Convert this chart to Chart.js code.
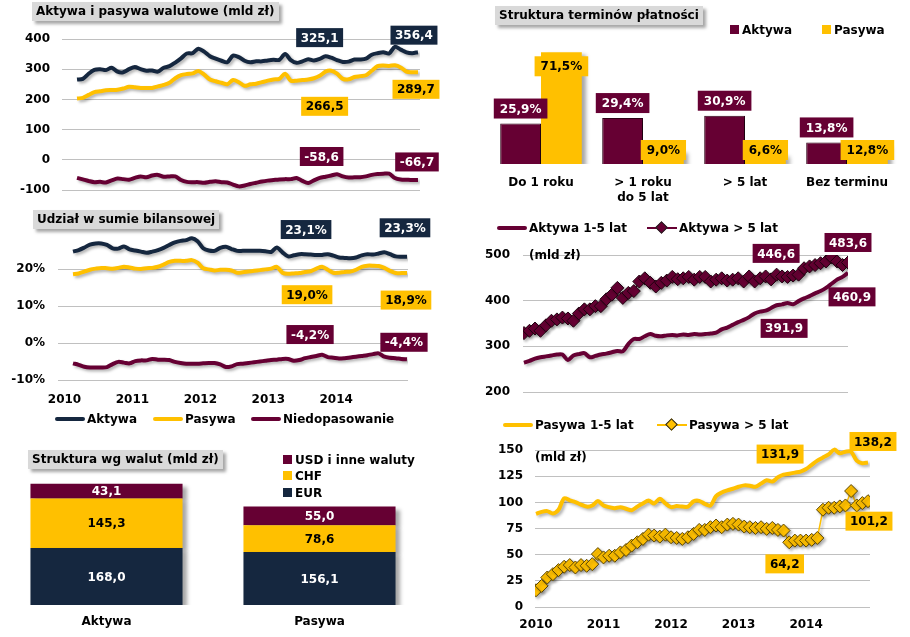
<!DOCTYPE html>
<html>
<head>
<meta charset="utf-8">
<script src="https://cdn.jsdelivr.net/npm/chart.js@4.4.1/dist/chart.umd.min.js"></script>
<style>
body { margin: 0; background: #fff; }
#wrap { position: relative; width: 910px; height: 637px; overflow: hidden; font-family: "DejaVu Sans", Verdana, sans-serif; font-weight: bold; color: #000; }
canvas { position: absolute; left: 0; top: 0; }
.title { position: absolute; background: #d9d9d9; box-shadow: 3px 3px 3px rgba(0,0,0,0.35); font-size: 12px; line-height: 19px; padding: 0 4px; white-space: pre; z-index: 5; }
.lg { position: absolute; font-size: 12px; line-height: 16px; white-space: pre; z-index: 5; }
.ln { display: inline-block; width: 30px; height: 4px; border-radius: 2px; vertical-align: middle; margin: 0 2px 2px 0; position: relative; }
.ln.thin { height: 2px; border-radius: 0; }
.dm { position: absolute; left: 10px; top: -4px; width: 9px; height: 9px; transform: rotate(45deg); border: 1px solid #222; box-sizing: border-box; }
.sq { display: inline-block; width: 9px; height: 9px; margin: 0 3px 2px 0; vertical-align: middle; }
</style>
</head>
<body>
<div id="wrap">
  <canvas id="c1" width="910" height="637"></canvas>
  <canvas id="c2" width="910" height="637"></canvas>
  <canvas id="c3" width="910" height="637"></canvas>
  <canvas id="c4" width="910" height="637"></canvas>
  <canvas id="c5" width="910" height="637"></canvas>
  <canvas id="c6" width="910" height="637"></canvas>

  <div class="title" style="left:32px;top:2px">Aktywa i pasywa walutowe (mld zł)</div>
  <div class="title" style="left:33px;top:210px">Udział w sumie bilansowej</div>
  <div class="title" style="left:28px;top:450px">Struktura wg walut (mld zł)</div>
  <div class="title" style="left:495px;top:6px">Struktura terminów płatności</div>

  <div class="lg" style="left:55px;top:411px"><i class="ln" style="background:#15273f"></i>Aktywa</div>
  <div class="lg" style="left:153px;top:411px"><i class="ln" style="background:#ffc000"></i>Pasywa</div>
  <div class="lg" style="left:251px;top:411px"><i class="ln" style="background:#660033"></i>Niedopasowanie</div>

  <div class="lg" style="left:283px;top:452px"><i class="sq" style="background:#660033"></i>USD i inne waluty</div>
  <div class="lg" style="left:283px;top:468px"><i class="sq" style="background:#ffc000"></i>CHF</div>
  <div class="lg" style="left:283px;top:485px"><i class="sq" style="background:#15273f"></i>EUR</div>

  <div class="lg" style="left:730px;top:22px"><i class="sq" style="background:#660033"></i>Aktywa</div>
  <div class="lg" style="left:822px;top:22px"><i class="sq" style="background:#ffc000"></i>Pasywa</div>

  <div class="lg" style="left:497px;top:220px"><i class="ln" style="background:#660033"></i>Aktywa 1-5 lat</div>
  <div class="lg" style="left:647px;top:220px"><i class="ln thin" style="background:#660033"><b class="dm" style="background:#660033"></b></i>Aktywa &gt; 5 lat</div>
  <div class="lg" style="left:529px;top:247px">(mld zł)</div>

  <div class="lg" style="left:503px;top:417px"><i class="ln" style="background:#ffc000"></i>Pasywa 1-5 lat</div>
  <div class="lg" style="left:657px;top:417px"><i class="ln thin" style="background:#ffc000"><b class="dm" style="background:#ffc000"></b></i>Pasywa &gt; 5 lat</div>
  <div class="lg" style="left:535px;top:449px">(mld zł)</div>
</div>

<script>
// monthly data, Jan 2010 - Dec 2014 (60 points)
const yearTicks = ['2010', '2011', '2012', '2013', '2014'];

const aktywaWal = [266,268,285,298,300,297,305,292,290,300, 307,300,295,296,292,305,310,322,336,352,
  353,368,358,343,335,328,323,345,340,328, 323,326,326,329,331,331,350,330,321,326,
  333,329,334,343,338,330,324,325.1,332,332, 335,348,353,356,352,374,365,356,353,356.4];
const pasywaWal = [203,205,215,224,227,230,231,232,236,242, 240,238,238,238,243,248,255,270,280,284,
  286,294,282,266,260,255,250,264,257,245, 250,252,257,262,266,268,285,262,262,264,
  266,270,278,292,295,285,268,266.5,274,277, 280,295,310,312,311,313,306,292,290,289.7];
const niedopWal = [-60,-65,-70,-74,-73,-75,-68,-62,-64,-66, -60,-55,-58,-52,-50,-56,-55,-55,-67,-73,
  -74,-74,-76,-73,-71,-74,-75,-82,-88,-85, -80,-76,-72,-69,-67,-65,-64,-64,-60,-70,
  -77,-68,-60,-56,-52,-48,-55,-58.6,-58,-58, -55,-50,-47,-46,-46,-60,-65,-66,-67,-66.7];

const udzialAktywa = [24.7,25.1,25.8,26.6,26.9,26.9,26.5,25.6,25.5,26.1, 25.3,25.0,24.7,24.4,24.7,25.1,25.7,26.5,27.2,27.6,
  27.8,28.3,27.5,25.6,25.0,24.9,25.7,26.0,25.4,24.9, 24.9,24.9,24.9,24.9,24.8,24.6,25.8,24.5,23.4,23.7,
  24.0,24.0,23.9,23.8,23.8,24.0,23.6,23.1,23.0,22.9, 23.1,23.7,24.0,23.9,24.2,24.5,24.0,23.4,23.3,23.3];
const udzialPasywa = [18.6,18.8,19.3,19.8,20.1,20.3,20.2,20.1,20.3,20.6, 20.4,20.1,20.0,20.2,20.3,20.6,21.2,21.9,22.2,22.2,
  22.2,22.4,21.7,20.2,19.9,19.6,19.8,19.8,19.6,19.0, 19.1,19.3,19.5,19.7,19.9,20.1,20.6,19.0,18.7,18.8,
  18.9,19.2,19.4,20.1,20.6,19.8,19.0,19.0,19.2,19.3, 19.8,20.6,20.9,20.9,20.8,20.3,19.5,18.9,18.9,18.9];
const udzialNiedop = [-5.5,-5.9,-6.4,-6.6,-6.6,-6.6,-6.5,-5.7,-5.1,-5.3, -5.5,-4.9,-4.7,-4.7,-4.3,-4.5,-4.5,-4.6,-5.1,-5.4,
  -5.6,-5.6,-5.6,-5.5,-5.4,-5.4,-5.8,-6.5,-6.3,-5.7, -5.6,-5.4,-5.2,-5.0,-4.8,-4.6,-4.5,-4.3,-4.3,-4.8,
  -4.6,-4.1,-3.8,-3.5,-3.2,-3.8,-4.0,-4.2,-4.1,-3.9, -3.7,-3.5,-3.3,-3.0,-2.8,-3.7,-4.0,-4.1,-4.3,-4.4];

const walutyCats = ['Aktywa', 'Pasywa'];
const eur = [168.0, 156.1];
const chf = [145.3, 78.6];
const usd = [43.1, 55.0];

const terminCats = ['Do 1 roku', ['> 1 roku', 'do 5 lat'], '> 5 lat', 'Bez terminu'];
const terminAktywa = [25.9, 29.4, 30.9, 13.8];
const terminPasywa = [71.5, 9.0, 6.6, 12.8];

const aktywa15 = [264,268,273,276,278,280,282,282,270,280, 283,285,276,279,282,284,287,290,289,305,
  316,316,322,327,323,322,324,325,324,326, 325,327,326,327,328,330,337,341,347,353,
  358,364,372,376,378,384,390,391.9,395,392, 399,405,410,416,421,428,437,446,452,460.9];
const aktywa5 = [329,334,339,334,346,356,359,363,361,356, 372,381,381,388,388,403,413,428,406,417,
  421,442,449,439,431,439,444,452,447,449, 452,446,452,452,442,446,449,444,446,449,
  442,453,442,449,453,446.6,457,453,452,455, 457,471,475,478,482,486,495,486,478,483.6];

const pasywa15 = [89.1,91.0,91.7,89.5,93,104,102,100.3,98,96, 97,101.3,97,95.5,94.5,95.5,94,92.5,96,99,
  101.8,99,103.5,99,95.5,96.5,96,96,101,101.5, 98.7,97,106,109.5,111.5,113.1,115,116.3,116,115,
  118,121.2,120,124,126.5,127.5,128.5,129.5,131.9,136, 140,143,146,150.5,147,148.5,148.5,140,137.5,138.2];
const pasywa5 = [16.0,20.2,28.2,31.4,35.3,38.5,40.1,37.8,40.1,39.4, 41,50.6,47.4,49,49,52.2,54.5,58.7,61.9,65.1,
  69.2,68.3,67.3,69.2,66.7,66,65.1,66.7,69.9,73.7, 73.7,76.3,77.9,76.3,78.8,79.5,78.8,76.9,76.3,75.6,
  76.3,74.7,75.6,73.7,73.1,61.9,63.5,63.5,63.5,64.2, 66,93,94.9,94.9,96.2,97.1,110.9,97.1,99.4,101.2];

const NAVY = '#15273f', YELLOW = '#ffc000', MAROON = '#660033', GRID = '#c0c0c0';
const FONT = '"DejaVu Sans", Verdana, sans-serif';

Chart.defaults.font.family = FONT;
Chart.defaults.font.weight = 'bold';
Chart.defaults.font.size = 12;
Chart.defaults.color = '#000';
Chart.defaults.animation = false;
Chart.defaults.events = [];
Chart.defaults.responsive = false;
Chart.defaults.plugins.legend.display = false;
Chart.defaults.plugins.tooltip.enabled = false;

const fmt = v => v.toFixed(1).replace('.', ',');

function series(label, values, color) {
  return { label, data: values.map((v, i) => ({ x: i, y: v })), borderColor: color, backgroundColor: color,
    borderWidth: 4, pointRadius: 0, tension: 0.3, boxText: color === YELLOW ? '#000' : '#fff' };
}
function diamonds(label, values, color, edge) {
  return { label, data: values.map((v, i) => ({ x: i, y: v })), borderColor: color, backgroundColor: color,
    borderWidth: 1.5, tension: 0, pointStyle: 'rectRot', pointRadius: 6.5,
    pointBackgroundColor: color, pointBorderColor: edge, pointBorderWidth: 1,
    boxText: color === YELLOW ? '#000' : '#fff' };
}

// drop shadow under the marks, like the Excel original
const shadow = {
  id: 'shadow',
  beforeDatasetsDraw(chart, args, opts) {
    const ctx = chart.ctx;
    ctx.save();
    ctx.shadowColor = opts.color || 'rgba(0,0,0,0.3)';
    ctx.shadowBlur = opts.blur ?? 3;
    ctx.shadowOffsetX = opts.x ?? 2;
    ctx.shadowOffsetY = opts.y ?? 2;
  },
  afterDatasetsDraw(chart) { chart.ctx.restore(); }
};

// boxed value labels tied to a data point (offset in px)
const valueBoxes = {
  id: 'valueBoxes',
  afterDraw(chart, args, opts) {
    const ctx = chart.ctx;
    (opts.items || []).forEach(it => {
      const ds = chart.data.datasets[it.ds];
      const pt = chart.getDatasetMeta(it.ds).data[it.i];
      const txt = fmt(ds.data[it.i].y) + (opts.suffix || '');
      ctx.save();
      ctx.font = 'bold 12px ' + FONT;
      const w = ctx.measureText(txt).width + 9, h = 19;
      const cx = pt.x + it.dx, cy = pt.y + it.dy;
      ctx.fillStyle = ds.borderColor;
      ctx.fillRect(cx - w / 2, cy - h / 2, w, h);
      ctx.fillStyle = ds.boxText;
      ctx.textAlign = 'center';
      ctx.textBaseline = 'middle';
      ctx.fillText(txt, cx, cy + 1);
      ctx.restore();
    });
  }
};

// year labels; shift = where the label sits relative to January, in months
function yearAxis(min, max, pad, height, shift) {
  return {
    type: 'linear', min, max,
    afterBuildTicks: s => { s.ticks = yearTicks.map((_, k) => ({ value: k * 12 + shift })); },
    ticks: { callback: (v, idx) => yearTicks[idx], autoSkip: false, maxRotation: 0, padding: pad },
    grid: { display: false, drawTicks: false },
    border: { display: false },
    afterFit: s => { s.height = height; }
  };
}
function valueAxis(min, max, step, width, pad, hideTop, suffix) {
  return {
    min, max,
    ticks: { stepSize: step, padding: pad, callback: v => (hideTop && v === max) ? '' : v + (suffix || '') },
    grid: { color: c => (hideTop && c.tick && c.tick.value === max) ? 'rgba(0,0,0,0)' : GRID, drawTicks: false },
    border: { display: false },
    afterFit: s => { s.width = width; }
  };
}

// 1. Aktywa i pasywa walutowe
new Chart(document.getElementById('c1'), {
  type: 'line',
  data: { datasets: [series('Aktywa', aktywaWal, NAVY), series('Pasywa', pasywaWal, YELLOW), series('Niedopasowanie', niedopWal, MAROON)] },
  options: {
    layout: { padding: { left: 0, top: 39, right: 490, bottom: 447 } },
    scales: { x: { type: 'linear', display: false, min: -2.6, max: 59.35 }, y: valueAxis(-100, 400, 100, 62, 12, false) },
    plugins: { valueBoxes: { items: [
      { ds: 0, i: 47, dx: -29, dy: -24 }, { ds: 0, i: 59, dx: -4, dy: -17 },
      { ds: 1, i: 47, dx: -24, dy: 27 }, { ds: 1, i: 59, dx: -2, dy: 17 },
      { ds: 2, i: 47, dx: -27, dy: -21 }, { ds: 2, i: 59, dx: -1, dy: -18 }
    ] } }
  },
  plugins: [shadow, valueBoxes]
});

// 2. Udział w sumie bilansowej
new Chart(document.getElementById('c2'), {
  type: 'line',
  data: { datasets: [series('Aktywa', udzialAktywa, NAVY), series('Pasywa', udzialPasywa, YELLOW), series('Niedopasowanie', udzialNiedop, MAROON)] },
  options: {
    layout: { padding: { left: 0, top: 232, right: 502, bottom: 231 } },
    scales: { x: yearAxis(-2.65, 59.18, 13, 26, -1.5), y: valueAxis(-10, 30, 10, 58, 13, true, '%') },
    plugins: { valueBoxes: { suffix: '%', items: [
      { ds: 0, i: 47, dx: -33, dy: -28 }, { ds: 0, i: 59, dx: -2, dy: -29 },
      { ds: 1, i: 47, dx: -32, dy: 22 }, { ds: 1, i: 59, dx: -1, dy: 27 },
      { ds: 2, i: 47, dx: -29, dy: -24 }, { ds: 2, i: 59, dx: -3, dy: -17 }
    ] } }
  },
  plugins: [shadow, valueBoxes]
});

// 3. Struktura wg walut
new Chart(document.getElementById('c3'), {
  type: 'bar',
  data: { labels: walutyCats, datasets: [
    { label: 'EUR', data: eur, backgroundColor: NAVY, txt: '#fff' },
    { label: 'CHF', data: chf, backgroundColor: YELLOW, txt: '#000' },
    { label: 'USD i inne waluty', data: usd, backgroundColor: MAROON, txt: '#fff' }
  ] },
  options: {
    layout: { padding: { left: 0, top: 469, right: 484, bottom: 0 } },
    datasets: { bar: { categoryPercentage: 1, barPercentage: 0.714 } },
    scales: {
      x: { stacked: true, grid: { display: false, drawTicks: false }, border: { display: false }, ticks: { padding: 10 }, afterFit: s => { s.height = 32; } },
      y: { stacked: true, display: false, min: 0, max: 400 }
    },
    plugins: { shadow: { x: 4, y: 3, blur: 4, color: 'rgba(0,0,0,0.35)' } }
  },
  plugins: [shadow, {
    id: 'stackLabels',
    afterDraw(chart) {
      const ctx = chart.ctx;
      ctx.save();
      ctx.font = 'bold 12px ' + FONT;
      ctx.textAlign = 'center';
      ctx.textBaseline = 'middle';
      chart.data.datasets.forEach((ds, d) => {
        chart.getDatasetMeta(d).data.forEach((bar, i) => {
          ctx.fillStyle = ds.txt;
          ctx.fillText(fmt(ds.data[i]), bar.x, (bar.y + bar.base) / 2 + 1);
        });
      });
      ctx.restore();
    }
  }]
});

// 4. Struktura terminów płatności
new Chart(document.getElementById('c4'), {
  type: 'bar',
  data: { labels: terminCats, datasets: [
    { label: 'Aktywa', data: terminAktywa, backgroundColor: MAROON, borderColor: '#2e0017', borderWidth: 1, txt: '#fff' },
    { label: 'Pasywa', data: terminPasywa, backgroundColor: YELLOW, txt: '#000' }
  ] },
  options: {
    layout: { padding: { left: 490, top: 39, right: 12, bottom: 433 } },
    datasets: { bar: { categoryPercentage: 0.8, barPercentage: 1 } },
    scales: {
      x: { grid: { display: false, drawTicks: false }, border: { display: false }, ticks: { padding: 11, font: { lineHeight: 1.25 } }, afterFit: s => { s.height = 40; } },
      y: { display: false, min: 0, max: 80 }
    },
    plugins: { shadow: { x: 4, y: 3, blur: 4, color: 'rgba(0,0,0,0.35)' } }
  },
  plugins: [shadow, {
    id: 'termLabels',
    afterDraw(chart) {
      const ctx = chart.ctx;
      const base = chart.scales.y.getPixelForValue(0);
      ctx.save();
      ctx.font = 'bold 12px ' + FONT;
      ctx.textAlign = 'center';
      ctx.textBaseline = 'middle';
      chart.data.datasets.forEach((ds, d) => {
        chart.getDatasetMeta(d).data.forEach((bar, i) => {
          const txt = fmt(ds.data[i]) + '%';
          const w = ctx.measureText(txt).width + 12, h = 20;
          const cy = d === 0 ? bar.y - 15 : Math.min(base - 14, bar.y + 14);
          ctx.fillStyle = ds.backgroundColor;
          ctx.fillRect(bar.x - w / 2, cy - h / 2, w, h);
          ctx.fillStyle = ds.txt;
          ctx.fillText(txt, bar.x, cy + 1);
        });
      });
      ctx.restore();
    }
  }]
});

// 5. Aktywa 1-5 lat / > 5 lat
new Chart(document.getElementById('c5'), {
  type: 'line',
  data: { datasets: [series('Aktywa 1-5 lat', aktywa15, MAROON), diamonds('Aktywa > 5 lat', aktywa5, MAROON, '#1e000f')] },
  options: {
    layout: { padding: { left: 463, top: 255, right: 62, bottom: 245 } },
    scales: { x: { type: 'linear', display: false, min: -0.18, max: 59 }, y: valueAxis(200, 500, 100, 60, 13, false) },
    plugins: { valueBoxes: { items: [
      { ds: 1, i: 45, dx: 5, dy: -26 }, { ds: 1, i: 59, dx: 0, dy: -20 },
      { ds: 0, i: 47, dx: 2, dy: 24 }, { ds: 0, i: 59, dx: 4, dy: 24 }
    ] } }
  },
  plugins: [shadow, valueBoxes]
});

// 6. Pasywa 1-5 lat / > 5 lat
new Chart(document.getElementById('c6'), {
  type: 'line',
  data: { datasets: [series('Pasywa 1-5 lat', pasywa15, YELLOW), diamonds('Pasywa > 5 lat', pasywa5, YELLOW, '#5a4500')] },
  options: {
    layout: { padding: { left: 475, top: 424, right: 40, bottom: 8 } },
    scales: { x: yearAxis(-0.18, 59.36, 11, 22, 0), y: valueAxis(0, 175, 25, 60, 12, true) },
    plugins: { valueBoxes: { items: [
      { ds: 0, i: 48, dx: -26, dy: -15 }, { ds: 0, i: 59, dx: 5, dy: -21 },
      { ds: 1, i: 59, dx: 1, dy: 20 }, { ds: 1, i: 49, dx: -27, dy: 24 }
    ] } }
  },
  plugins: [shadow, valueBoxes]
});
</script>
</body>
</html>
